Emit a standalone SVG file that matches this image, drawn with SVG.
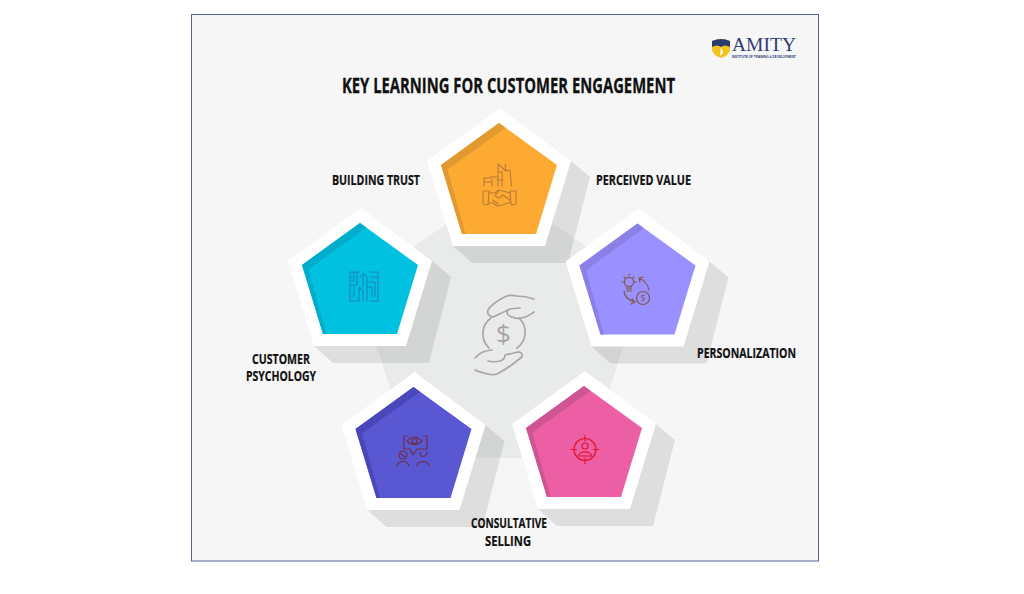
<svg xmlns="http://www.w3.org/2000/svg" xmlns:xlink="http://www.w3.org/1999/xlink" width="1024" height="594" viewBox="0 0 1024 594">
<style>
.t{font-family:"Open Sans","Liberation Sans",sans-serif;font-weight:700;fill:#111;font-size:13.7px;stroke:#111;stroke-width:.2}
.title{font-size:20.5px;stroke-width:.3}
.sh{fill:#000;fill-opacity:.095}
.w{fill:#fff}
.i{fill:none;stroke-width:1.1;stroke-linecap:round;stroke-linejoin:round}
</style>
<defs>
<polygon id="shadow" class="sh" points="571,161 590,177 568,263 472,263 453,246"/>
<polygon id="white" class="w" points="500,108 571,161 545,246 453,246 427,161"/>
<polygon id="face" points="499,123 557,165 536,234 462,234 441,165"/>
<polygon id="strip" points="499,123 505.500,127.700 447.500,169.500 465.500,234 462,234 441,165"/>
</defs>
<rect width="1024" height="594" fill="#fff"/>
<rect x="191.500" y="14.500" width="627" height="546.500" fill="#f6f6f6" stroke="#5563a0" stroke-width="1"/>
<g id="logo">
<path d="M712 41 Q721 37 730 41 V50 Q729 55 721 58 Q713 55 712 50Z" fill="#f2c21d"/>
<path d="M712 41 Q721 37 730 41 V47 Q725 44 721 47 Q717 44 712 47Z" fill="#2d3b6e"/>
<path d="M720 56 L721 47 L723 53Z" fill="#fff"/>
<text x="732" y="51" font-family="Liberation Serif,serif" font-size="19.500" fill="#2f3d72" textLength="64" lengthAdjust="spacingAndGlyphs">AMITY</text>
<text x="732" y="58" font-family="Liberation Sans,sans-serif" font-weight="700" font-size="3.800" fill="#2f3d72" textLength="64" lengthAdjust="spacingAndGlyphs">INSTITUTE OF TRAINING &amp; DEVELOPMENT</text>
</g>
<text class="t title" x="342" y="93" textLength="333" lengthAdjust="spacingAndGlyphs">KEY LEARNING FOR CUSTOMER ENGAGEMENT</text>
<polygon id="center-shape" points="500,187 642,285 589,458 411,458 358,285" fill="#e9eaea"/>
<g id="shadows">
<use href="#shadow" xlink:href="#shadow"/>
<use href="#shadow" xlink:href="#shadow" transform="translate(-139,100)"/>
<use href="#shadow" xlink:href="#shadow" transform="translate(138.500,100.500)"/>
<use href="#shadow" xlink:href="#shadow" transform="translate(85,263)"/>
<use href="#shadow" xlink:href="#shadow" transform="translate(-85.500,264)"/>
</g>
<g id="center-icon" class="i" stroke="#a6a6a6" style="stroke-width:1.7">
<path d="M491 318 A19.500 19.500 0 0 0 489 348 M517 348 A19.500 19.500 0 0 0 519 318"/>
<path d="M534 299 C528 297 522 296 517 296 C513 295 510 295 507 296 C500 299 492 304 488 310 C487 313 488 316 493 317 C498 315 503 312 508 310 C512 308 516 308 520 308"/>
<path d="M508 310 C506 313 507 316 515 318 C519 319 522 318 525 317 C529 316 531 314 534 312"/>
<path d="M475 358 C478 355 480 353 483 352 C486 351 489 350 492 350"/>
<path d="M488 361 C492 362 496 362 500 361 C503 360 505 358 505 355 C510 354 514 353 518 352"/>
<path d="M475 370 C479 372 483 373 488 374 C491 375 494 375 497 374 C505 370 512 365 518 360 C521 358 523 356 522 355 C522 353 520 352 518 352"/>
<text x="503.500" y="343" text-anchor="middle" font-family="Open Sans,sans-serif" font-size="26" fill="#a6a6a6" stroke="none">$</text>
</g>
<g id="node-building-trust">
<use href="#white" xlink:href="#white"/>
<use href="#face" xlink:href="#face" fill="#fdaa33"/>
<use href="#strip" xlink:href="#strip" fill="#e29a30"/>
<g class="i" stroke="#b97b36">
<path d="M498 186 V164 L506 171 L505 164 M505 171 L510 170 L511.500 186 M497 177 L490 177 M484 186 V178 H490 M484 182 H491 M492 179 V186 M498 172 H502 M502 172 V186 M497 180 H503"/>
<path d="M483 191 L489 191 L488 205 L483 204Z M510 191 L516 191 L516 204 L511 205Z M489 193 H495 L499 190 L503 191 L510 193 M488 203 L493 203 L497 206 L502 205 L511 202 M499 190 L495 196 L499 198 L503 195 L510 200 M493 200 L498 204"/>
</g>
<text class="t" x="332" y="185" textLength="88" lengthAdjust="spacingAndGlyphs">BUILDING TRUST</text>
</g>
<g id="node-perceived-value">
<use href="#white" xlink:href="#white" transform="translate(138.500,100.500)"/>
<use href="#face" xlink:href="#face" transform="translate(138.500,100.500)" fill="#9b90ff"/>
<use href="#strip" xlink:href="#strip" transform="translate(138.500,100.500)" fill="#8a80e6"/>
<g class="i" stroke="#7e5a45" style="stroke-width:1.200">
<circle cx="629" cy="282" r="4.600"/>
<path d="M627 287 V289 H631 V287 M626.500 291 H631.500 M629 274 V275.500 M622 282 H623.500 M634.500 282 H636 M624 277 L625 278 M634 277 L633 278"/>
<circle cx="643" cy="298" r="6.500"/>
<path d="M639 278 C644 280 648 285 649 290 M639 278 L643 277 M639 278 L640 282"/>
<path d="M624 291 C624 296 629 301 635 302 M635 302 L632 299 M635 302 L631 304"/>
</g>
<text x="643" y="301" text-anchor="middle" font-family="Open Sans,sans-serif" font-size="9" fill="#7e5a45">$</text>
<text class="t" x="596" y="185" textLength="95" lengthAdjust="spacingAndGlyphs">PERCEIVED VALUE</text>
</g>
<g id="node-personalization">
<use href="#white" xlink:href="#white" transform="translate(85,263)"/>
<use href="#face" xlink:href="#face" transform="translate(85,263)" fill="#ec5fa4"/>
<use href="#strip" xlink:href="#strip" transform="translate(85,263)" fill="#cf5592"/>
<g class="i" stroke="#e2142f" style="stroke-width:1.200">
<circle cx="585" cy="449.500" r="11"/>
<path d="M585 435.500 V441 M585 458 V463.500 M571 449.500 H576.500 M593.500 449.500 H599"/>
<circle cx="585" cy="446" r="3"/>
<path d="M578.500 456 C578.500 450.500 591.500 450.500 591.500 456Z"/>
</g>
<text class="t" x="697" y="358" textLength="99" lengthAdjust="spacingAndGlyphs">PERSONALIZATION</text>
</g>
<g id="node-consultative-selling">
<use href="#white" xlink:href="#white" transform="translate(-85.500,264)"/>
<use href="#face" xlink:href="#face" transform="translate(-85.500,264)" fill="#5a57d3"/>
<use href="#strip" xlink:href="#strip" transform="translate(-85.500,264)" fill="#4a47ba"/>
<g class="i" stroke="#6d2f4c" style="stroke-width:1.200">
<path d="M407 436 H404 V449 H410 L413 455 L417 449 H427 V436 H423"/>
<path d="M407 441 Q414 433 422 441 Q414 448 407 441Z"/>
<circle cx="414.500" cy="441" r="2.500"/>
<circle cx="403" cy="455" r="4"/>
<path d="M400 453 L405 457"/>
<path d="M397 466 C398 460 408 460 409 466"/>
<path d="M420 452 C420 458 426 458 427 452"/>
<path d="M417 466 C418 460 428 460 429 466"/>
</g>
<text class="t" x="471" y="528" textLength="76" lengthAdjust="spacingAndGlyphs">CONSULTATIVE</text>
<text class="t" x="485" y="546" textLength="46" lengthAdjust="spacingAndGlyphs">SELLING</text>
</g>
<g id="node-customer-psychology">
<use href="#white" xlink:href="#white" transform="translate(-139,100)"/>
<use href="#face" xlink:href="#face" transform="translate(-139,100)" fill="#00c2e0"/>
<use href="#strip" xlink:href="#strip" transform="translate(-139,100)" fill="#00aecb"/>
<g class="i" stroke="#1a86c4">
<path d="M359 272 H350 V301 H359 M350 277 H354 M354 272 V281 H350 M350 285 H357 V272 M354 285 V296 H350 M359 301 V287 L363 291 V301 M363 274 V287 M360 277 L363.500 273 L367 277 M367 278 V301 M370 272 H378 V301 H370 M367 282 H375 M370 277 H378 M375 282 V296 H372 V287 H367"/>
</g>
<text class="t" x="252" y="364" textLength="58" lengthAdjust="spacingAndGlyphs">CUSTOMER</text>
<text class="t" x="246" y="381" textLength="70" lengthAdjust="spacingAndGlyphs">PSYCHOLOGY</text>
</g>
</svg>
